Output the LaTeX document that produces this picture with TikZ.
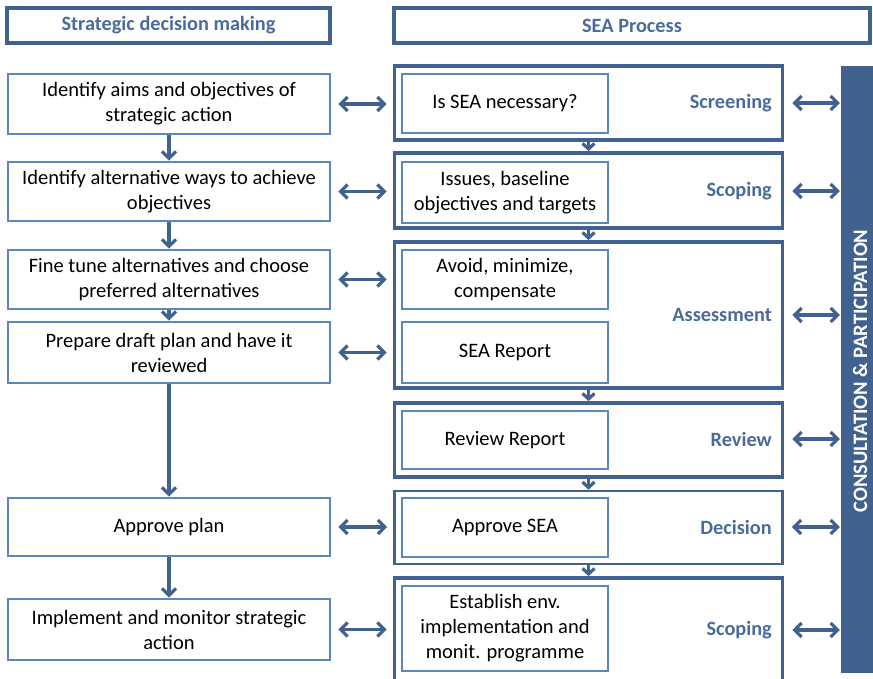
\documentclass[tikz,border=0pt]{standalone}
\usepackage{fontspec}
\setmainfont{Carlito}
\usetikzlibrary{arrows.meta}
\definecolor{dkblue}{RGB}{65,98,143}
\definecolor{ltblue}{RGB}{91,135,193}
\definecolor{lblblue}{RGB}{74,107,155}
\begin{document}
\begin{tikzpicture}[x=1pt,y=-1pt,
  txt/.style={font=\fontsize{20.5}{25}\selectfont, align=center, text=black},
  hdr/.style={draw=dkblue, line width=3.4pt, minimum width=323pt, minimum height=35pt, inner sep=0pt,
    font=\fontsize{20.3}{23}\selectfont\bfseries, text=lblblue},
  lbox/.style={txt, draw=ltblue, line width=2.6pt, minimum width=322pt, inner sep=0pt},
  obox/.style={draw=dkblue, line width=3.8pt, minimum width=388pt, inner sep=0pt},
  ibox/.style={txt, draw=ltblue, line width=2.6pt, minimum width=206pt, inner sep=0pt},
  lab/.style={anchor=east, font=\fontsize{20.3}{23}\selectfont\bfseries, text=lblblue, inner sep=0pt},
  conn/.style={draw=dkblue, line width=3.2pt},
  darr/.style={conn, {Straight Barb[length=7pt,width=14pt]}-{Straight Barb[length=7pt,width=14pt]}},
  varr/.style={conn, -{Straight Barb[length=7pt,width=14pt]}},
  sarr/.style={conn, -{Straight Barb[length=5.5pt,width=12pt]}}
]
\useasboundingbox (0,0) rectangle (873,678);

% headers
\node[hdr] (h1) at (168.5,25.5) {Strategic decision making};
\node[hdr, minimum width=476pt] (h2) at (632,25.5) {SEA Process};

% left column
\node[lbox, minimum height=60pt] (l1) at (169,104) {Identify aims and objectives of\\strategic action};
\node[lbox, minimum height=59pt] (l2) at (169,191.5) {Identify alternative ways to achieve\\objectives};
\node[lbox, minimum height=59pt] (l3) at (169,279.5) {Fine tune alternatives and choose\\preferred alternatives};
\node[lbox, minimum height=61pt] (l4) at (169,352.5) {Prepare draft plan and have it\\reviewed};
\node[lbox, minimum height=58pt] (l5) at (169,527) {Approve plan};
\node[lbox, minimum height=61pt] (l6) at (169,629.5) {Implement and monitor strategic\\action};

% outer SEA boxes
\node[obox, minimum height=74pt] (o1) at (588.5,103) {};
\node[obox, minimum height=75pt] (o2) at (588.5,190.5) {};
\node[obox, minimum height=146pt] (o3) at (588.5,315) {};
\node[obox, minimum height=74pt] (o4) at (588.5,440) {};
\node[obox, line width=2.6pt, minimum height=73pt] (o5) at (588.5,527.5) {};
\node[obox, minimum height=120pt] (o6) at (588.5,638) {};

% inner boxes
\node[ibox, minimum height=59pt] (i1) at (505,103.5) {Is SEA necessary?};
\node[ibox, minimum height=61pt] (i2) at (505,192.5) {Issues, baseline\\objectives and targets};
\node[ibox, minimum height=59pt] (i3a) at (505,279.5) {Avoid, minimize,\\compensate};
\node[ibox, minimum height=61pt] (i3b) at (505,352.5) {SEA Report};
\node[ibox, minimum height=58pt] (i4) at (505,440) {Review Report};
\node[ibox, minimum height=59pt] (i5) at (505,527.5) {Approve SEA};
\node[ibox, minimum height=85pt] (i6) at (505,628.5) {Establish env.\\implementation and\\monit. programme};

% stage labels
\node[lab] (s1) at (772,103) {Screening};
\node[lab] (s2) at (772,191) {Scoping};
\node[lab] (s3) at (772,315) {Assessment};
\node[lab] (s4) at (772,439) {Review};
\node[lab] (s5) at (772,527) {Decision};
\node[lab] (s6) at (772,630) {Scoping};

% consultation bar
\node[fill=dkblue, minimum width=32pt, minimum height=607pt, inner sep=0pt] (bar) at (857,369.5) {};
\node[rotate=90, text=white, font=\fontsize{20.5}{22}\selectfont\bfseries, inner sep=0pt] (bartxt) at (860,371) {CONSULTATION \& PARTICIPATION};

% left vertical arrows
\draw[varr] (l1.south) -- (l2.north);
\draw[varr] (l2.south) -- (l3.north);
\draw[varr] (l3.south) -- (l4.north);
\draw[varr] (l4.south) -- (l5.north);
\draw[varr] (l5.south) -- (l6.north);

% right vertical arrows
\draw[sarr] (o1.south) -- (o2.north);
\draw[sarr] (o2.south) -- (o3.north);
\draw[sarr] (o3.south) -- (o4.north);
\draw[sarr] (o4.south) -- (o5.north);
\draw[sarr] (o5.south) -- (o6.north);

% left-right double arrows
\draw[darr, shorten <=7pt, shorten >=6pt] (l1.east) -- (l1.east -| o1.west);
\draw[darr, shorten <=7pt, shorten >=6pt] (l2.east) -- (l2.east -| o2.west);
\draw[darr, shorten <=7pt, shorten >=6pt] (l3.east) -- (l3.east -| o3.west);
\draw[darr, shorten <=7pt, shorten >=6pt] (l4.east) -- (l4.east -| o3.west);
\draw[darr, shorten <=7pt, shorten >=6pt] (l5.east) -- (l5.east -| o5.west);
\draw[darr, shorten <=7pt, shorten >=6pt] (l6.east) -- (l6.east -| o6.west);

% right double arrows to bar
\draw[darr, shorten <=8pt, shorten >=1pt] (s1 -| o1.east) -- (s1 -| bar.west);
\draw[darr, shorten <=8pt, shorten >=1pt] (s2 -| o2.east) -- (s2 -| bar.west);
\draw[darr, shorten <=8pt, shorten >=1pt] (s3 -| o3.east) -- (s3 -| bar.west);
\draw[darr, shorten <=8pt, shorten >=1pt] (s4 -| o4.east) -- (s4 -| bar.west);
\draw[darr, shorten <=8pt, shorten >=1pt] (s5 -| o5.east) -- (s5 -| bar.west);
\draw[darr, shorten <=8pt, shorten >=1pt] (s6 -| o6.east) -- (s6 -| bar.west);
\end{tikzpicture}
\end{document}
